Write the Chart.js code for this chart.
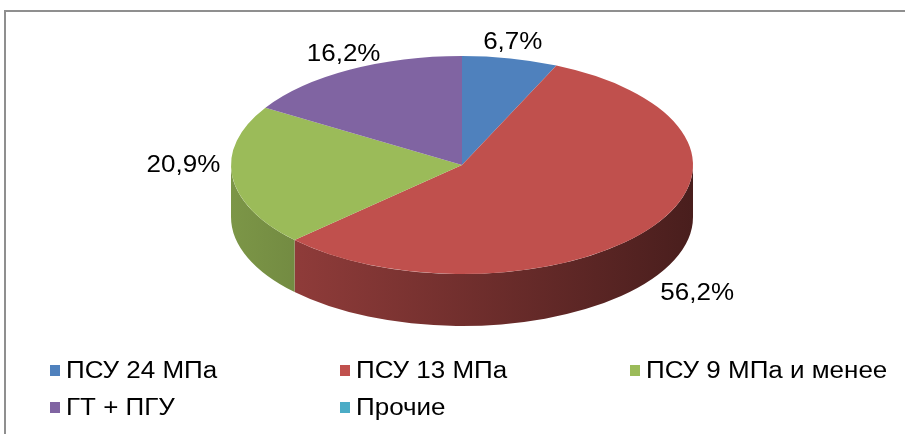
<!DOCTYPE html>
<html>
<head>
<meta charset="utf-8">
<script src="https://cdn.jsdelivr.net/npm/chart.js@4"></script>
<style>
  body { margin: 0; background: #fff; }
  #wrap { position: relative; width: 905px; height: 434px; overflow: hidden; font-family: 'Liberation Sans', Arial, sans-serif; }
  #frame { position: absolute; left: 4px; top: 10px; width: 1000px; height: 1000px; border-top: 2px solid #8f8f8f; border-left: 2px solid #8f8f8f; }
  canvas { position: absolute; left: 0; top: 0; }
  .item { position: absolute; display: flex; align-items: center; height: 26px; font-size: 23px; color: #000; white-space: nowrap; }
  .sw { width: 10px; height: 11px; margin-right: 6px; flex: none; }
  .txt { display: inline-block; transform: scaleX(1.13); transform-origin: left center; }
</style>
</head>
<body>
<div id="wrap">
  <div id="frame"></div>
  <canvas id="myChart" width="905" height="434"></canvas>
  <div id="legend"></div>
</div>
<script>
// chart data
const categories = ['ПСУ 24 МПа', 'ПСУ 13 МПа', 'ПСУ 9 МПа и менее', 'ГТ + ПГУ', 'Прочие'];
const shares = [6.7, 56.2, 20.9, 16.2, 0];
const colors = ['#4f81bd', '#c0504d', '#9bbb59', '#8064a2', '#4bacc6'];

// ellipse of the 3d pie on screen
const CX = 462, CY = 165, RX = 231, RY = 109, DEPTH = 52;

function shade(hex, k) {
  const n = parseInt(hex.slice(1), 16);
  const r = Math.round(((n >> 16) & 255) * k);
  const g = Math.round(((n >> 8) & 255) * k);
  const b = Math.round((n & 255) * k);
  return 'rgb(' + r + ',' + g + ',' + b + ')';
}

const pie3d = {
  id: 'pie3d',
  beforeDatasetsDraw(chart) {
    const ctx = chart.ctx;
    const arcs = chart.getDatasetMeta(0).data;
    // front walls (only the lower half of the ellipse is visible)
    arcs.forEach((arc, i) => {
      const lo = Math.max(arc.startAngle, 0);
      const hi = Math.min(arc.endAngle, Math.PI);
      if (hi <= lo) return;
      const grad = ctx.createLinearGradient(CX - RX, 0, CX + RX, 0);
      grad.addColorStop(0, shade(colors[i], 0.8));
      grad.addColorStop(1, shade(colors[i], 0.38));
      ctx.beginPath();
      ctx.ellipse(CX, CY, RX, RY, 0, lo, hi, false);
      ctx.ellipse(CX, CY + DEPTH, RX, RY, 0, hi, lo, true);
      ctx.closePath();
      ctx.fillStyle = grad;
      ctx.fill();
    });
    // squash the flat pie into the top face
    const ref = arcs[0];
    const r = ref.outerRadius;
    ctx.save();
    ctx.translate(CX, CY);
    ctx.scale(RX / r, RY / r);
    ctx.translate(-ref.x, -ref.y);
  },
  afterDatasetsDraw(chart) {
    chart.ctx.restore();
  },
  afterDraw(chart) {
    const ctx = chart.ctx;
    const arcs = chart.getDatasetMeta(0).data;
    ctx.save();
    ctx.fillStyle = '#000';
    ctx.font = "23px 'Liberation Sans', Arial, sans-serif";
    arcs.forEach((arc, i) => {
      if (!shares[i]) return;
      const t = (arc.startAngle + arc.endAngle) / 2;
      const c = Math.cos(t), s = Math.sin(t);
      let x = CX + (RX + 12) * c;
      let y = CY + (RY + 4) * s;
      if (s > 0.3) y += DEPTH;
      ctx.textAlign = c > 0.6 ? 'left' : (c < -0.6 ? 'right' : 'center');
      ctx.textBaseline = s > 0.3 ? 'top' : 'bottom';
      const label = shares[i].toFixed(1).replace('.', ',') + '%';
      ctx.save();
      ctx.translate(x, y);
      ctx.scale(1.13, 1);
      ctx.fillText(label, 0, 0);
      ctx.restore();
    });
    ctx.restore();
  }
};

const ctx = document.getElementById('myChart').getContext('2d');
const myChart = new Chart(ctx, {
  type: 'pie',
  data: {
    labels: categories,
    datasets: [{
      data: shares,
      backgroundColor: colors,
      borderWidth: 0,
      clip: false
    }]
  },
  options: {
    responsive: false,
    animation: false,
    devicePixelRatio: 1,
    events: [],
    plugins: {
      legend: { display: false },
      tooltip: { enabled: false }
    }
  },
  plugins: [pie3d]
});

// legend, three columns
const legend = document.getElementById('legend');
categories.forEach((name, i) => {
  const item = document.createElement('div');
  item.className = 'item';
  item.style.left = (50 + (i % 3) * 290) + 'px';
  item.style.top = (357 + Math.floor(i / 3) * 37) + 'px';
  const sw = document.createElement('span');
  sw.className = 'sw';
  sw.style.background = colors[i];
  const txt = document.createElement('span');
  txt.className = 'txt';
  txt.textContent = name;
  item.appendChild(sw);
  item.appendChild(txt);
  legend.appendChild(item);
});
</script>
</body>
</html>
